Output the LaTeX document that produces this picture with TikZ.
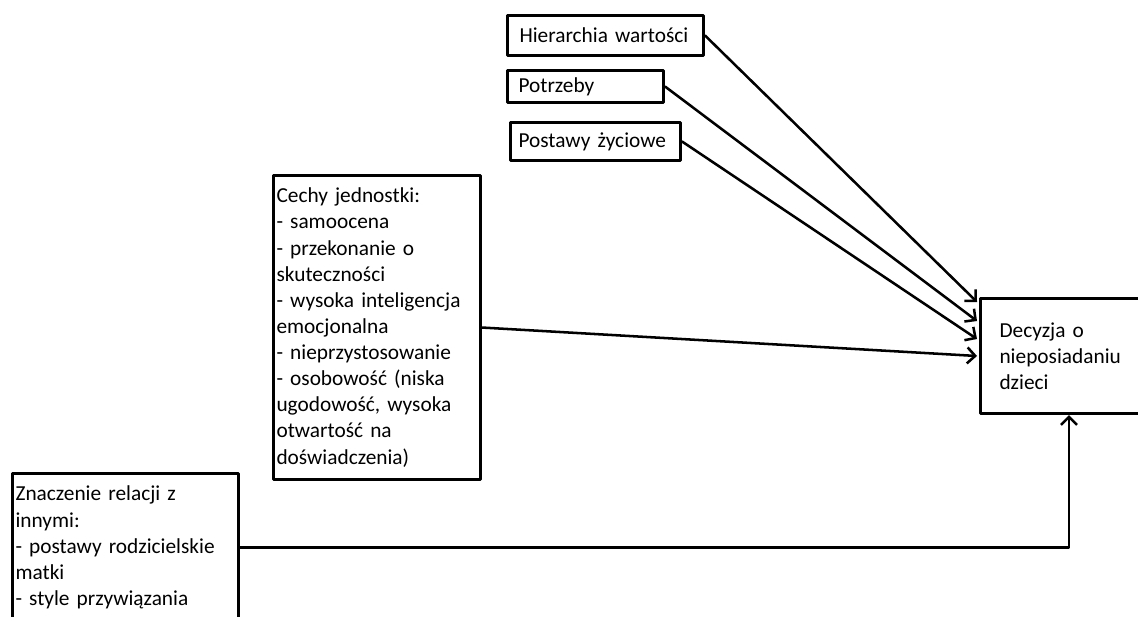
\documentclass[tikz,border=0pt]{standalone}
\usepackage{fontspec}
\setmainfont{Carlito}
\usepackage{tikz}
\usetikzlibrary{calc}
\usetikzlibrary{arrows.meta}

\tikzset{
  blok/.style={draw,line width=2.3pt,anchor=north west,align=left,inner ysep=0pt,
    font=\fontsize{16}{19.6}\selectfont},
  strz/.style={line width=1.9pt,->}
}

\begin{document}
\begin{tikzpicture}[x=0.75pt,y=-0.75pt,>={Straight Barb[length=6pt,width=12pt]},line cap=round,line join=round]
  \clip (0,0) rectangle (1138,617);

  % boxes
  \node[blok,inner xsep=9pt,text width=129pt,minimum height=30pt] (hier) at (506,14) {Hierarchia wartości};
  \node[blok,inner xsep=8.25pt,text width=100.5pt,minimum height=24pt] (potrz) at (506,69) {Potrzeby};
  \node[blok,inner xsep=6pt,text width=115.5pt,minimum height=28.5pt] (post) at (509,121) {Postawy życiowe};
  \node[blok,inner xsep=2.25pt,text width=150.75pt,minimum height=228pt] (cechy) at (272,174)
    {Cechy jednostki:\\- samoocena\\- przekonanie o\\skuteczności\\- wysoka inteligencja\\emocjonalna\\- nieprzystosowanie\\- osobowość (niska\\ugodowość, wysoka\\otwartość na\\doświadczenia)};
  \node[blok,inner xsep=14.25pt,text width=102.75pt,minimum height=86.25pt] (dec) at (979,297)
    {Decyzja o\\nieposiadaniu\\dzieci};
  \node[blok,inner xsep=2.25pt,text width=165pt,minimum height=111pt] (znacz) at (11,472)
    {Znaczenie relacji z\\innymi:\\- postawy rodzicielskie\\matki\\- style przywiązania};

  % arrows
  \draw[strz] (hier.east) -- ($(dec.north west)+(-2,5)$);
  \draw[strz] (potrz.east) -- ($(dec.north west)+(-2,24)$);
  \draw[strz] (post.east) -- ($(dec.north west)+(-2,42)$);
  \draw[strz] (cechy.east) -- ($(dec.north west)+(-2,59)$);
  \draw[strz] (znacz.east) -| ($(dec.south west)+(90,0)$);
\end{tikzpicture}
\end{document}
